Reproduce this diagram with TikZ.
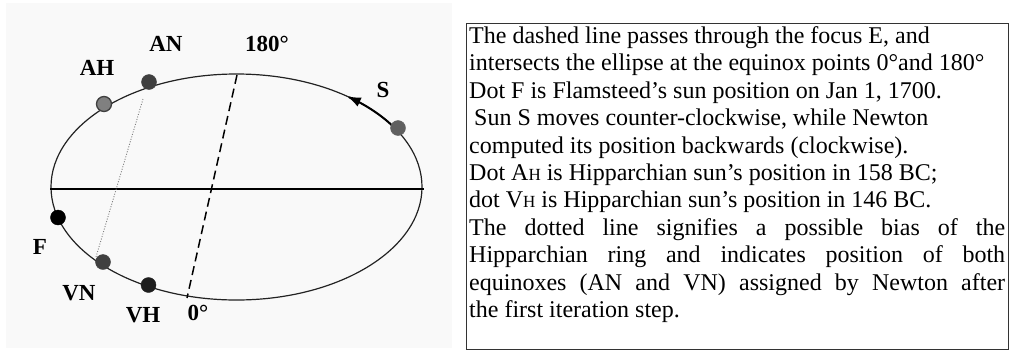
\documentclass[tikz,border=0pt]{standalone}
\usepackage{fontspec}
\setmainfont{Liberation Serif}
\usetikzlibrary{arrows.meta}
\definecolor{panelbg}{RGB}{249,249,249}
\definecolor{orbit}{RGB}{34,34,34}
\definecolor{dotAN}{RGB}{64,64,64}
\definecolor{dotAH}{RGB}{128,128,128}
\definecolor{dotS}{RGB}{96,96,96}
\definecolor{dotVH}{RGB}{30,30,30}
\tikzset{
  dotmark/.style={circle, inner sep=0pt, minimum size=15pt, draw=#1, fill=#1},
  lbl/.style={font=\bfseries\fontsize{23}{26}\selectfont, inner sep=0pt},
  orbitline/.style={draw=orbit, line width=1.2pt},
}
\begin{document}
\begin{tikzpicture}[x=1pt,y=-1pt]
\useasboundingbox (0,0) rectangle (1011,351);
% left panel background
\fill[panelbg] (6,3) rectangle (452,348);
% orbit
\draw[orbitline] (236.5,187) ellipse [x radius=185.5, y radius=113];
% axis
\coordinate (axL) at (50,189);
\coordinate (axR) at (424,189);
\draw[line width=1.4pt] (axL) -- (axR);
% equinox line (dashed)
\coordinate (e180) at (237,75);
\coordinate (e0) at (187,298);
\draw[line width=1.5pt, dash pattern=on 9pt off 5pt] (e180) -- (e0);
% dotted line
\coordinate (dtop) at (143,99);
\coordinate (dbot) at (96,257);
\draw[gray, line width=0.9pt, dash pattern=on 1pt off 1.6pt] (dtop) -- (dbot);
% arrow of sun motion
\draw[line width=2pt, -{Latex[length=14pt,width=10pt]}] plot[domain=31:53.5, samples=25] ({236.5+185.5*cos(\x)},{187-113*sin(\x)});
% dots
\node[dotmark=dotAN] (AN) at (149,82) {};
\node[circle, inner sep=0pt, minimum size=15pt, draw=dotAN, line width=1.3pt, fill=dotAH] (AH) at (104,104) {};
\node[dotmark=dotS] (S) at (398,128) {};
\node[dotmark=black] (F) at (58,217.5) {};
\node[dotmark=dotAN] (VN) at (103,262) {};
\node[dotmark=dotVH] (VH) at (148.5,285) {};
% labels
\node[lbl] (lAN) at (166,44) {AN};
\node[lbl] (l180) at (267,44) {180°};
\node[lbl] (lAH) at (97,68) {AH};
\node[lbl] (lS) at (383,90) {S};
\node[lbl] (lF) at (40,247) {F};
\node[lbl] (lVN) at (79,293) {VN};
\node[lbl] (lVH) at (143,315) {VH};
\node[lbl] (l0) at (198,313) {0°};
% text box
\draw[draw=black!80, line width=1pt] (466,23) rectangle (1008,349);
\node[anchor=north west, inner sep=0pt, align=left, font=\fontsize{24}{27.4}\selectfont] (txt) at (469,26.3) {%
The dashed line passes through the focus E, and\\
intersects the ellipse at the equinox points 0°and 180°\\
Dot F is Flamsteed’s sun position on Jan 1, 1700.\\
\hspace*{5pt}Sun S moves counter-clockwise, while Newton\\
computed its position backwards (clockwise).\\
Dot A{\fontsize{17}{18}\selectfont H} is Hipparchian sun’s position in 158 BC;\\
dot V{\fontsize{17}{18}\selectfont H} is Hipparchian sun’s position in 146 BC.\\
\makebox[536pt][s]{The dotted line signifies a possible bias of the}\\
\makebox[536pt][s]{Hipparchian ring and indicates position of both}\\
\makebox[536pt][s]{equinoxes (AN and VN) assigned by Newton after}\\
the first iteration step.};
\end{tikzpicture}
\end{document}
